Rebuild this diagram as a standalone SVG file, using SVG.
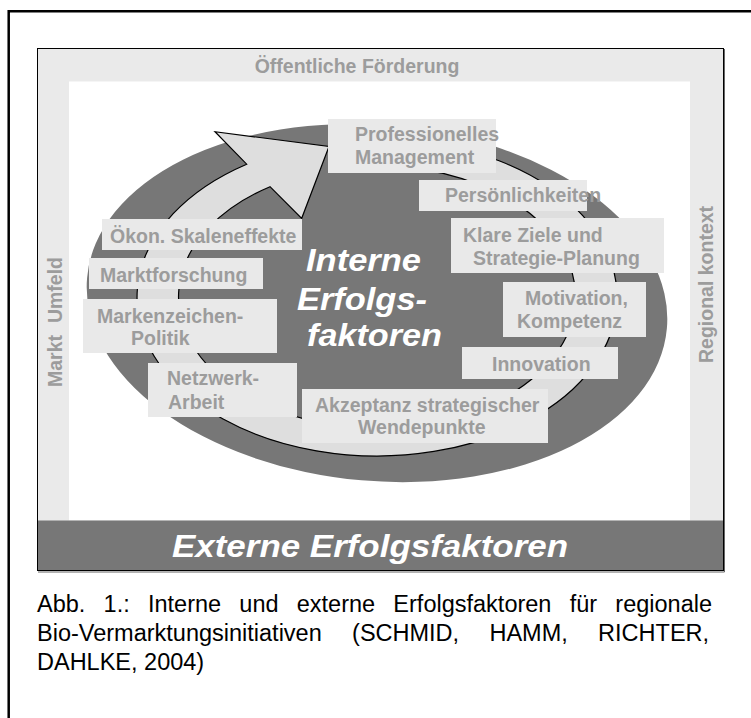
<svg xmlns="http://www.w3.org/2000/svg" width="751" height="718" viewBox="0 0 751 718">
  <style>
    .lbl { font-family: "Liberation Sans", Arial, sans-serif; font-weight: bold; font-size: 19.5px; fill: #9c9c9c; }
    .box { fill: #e9e9e9; }
    .big { font-family: "Liberation Sans", Arial, sans-serif; font-weight: bold; font-style: italic; font-size: 31px; fill: #ffffff; }
    .cap { font-family: "Liberation Sans", Arial, sans-serif; font-size: 23.5px; fill: #000000; }
  </style>
  <rect x="0" y="0" width="751" height="718" fill="#ffffff"/>
  <!-- outer frame -->
  <path d="M 8.7 720 V 11.3 H 753" fill="none" stroke="#000" stroke-width="2.5"/>

  <g id="external">
    <rect x="37.5" y="48.5" width="686" height="522" fill="#eaeaea"/>
    <rect x="69" y="81.5" width="621" height="439" fill="#ffffff"/>
    <rect x="37.5" y="520.5" width="686" height="50" fill="#777777"/>
    <rect x="37.5" y="48.5" width="686" height="522" fill="none" stroke="#000" stroke-width="1"/>
    <path d="M 724.5 49 V 572 H 38" fill="none" stroke="#666" stroke-width="1"/>
    <text class="lbl" x="357" y="72.5" text-anchor="middle">Öffentliche Förderung</text>
    <text class="lbl" transform="translate(61.5 387) rotate(-90)">Markt</text>
    <text class="lbl" transform="translate(61.5 257) rotate(-90)" text-anchor="end">Umfeld</text>
    <text class="lbl" transform="translate(713 363) rotate(-90)">Regional kontext</text>
    <text class="big" x="172" y="557" font-size="33" textLength="396" lengthAdjust="spacingAndGlyphs">Externe Erfolgsfaktoren</text>
  </g>

  <g id="internal">
    <ellipse cx="377" cy="303" rx="291" ry="178" fill="#777777" transform="rotate(5 377 303)"/>
  </g>

  <g id="connectors">
    <path d="M 400 139.5 A 240 158.6 0 1 1 246.7 164.2 L 215 131.7 L 329 146.5 L 301.7 218.3 L 270 186.7 A 198.5 131 0 1 0 400 166.9 Z" fill="#dedede" stroke="#000" stroke-width="1.2" stroke-linejoin="miter"/>
  </g>

  <g id="center-label">
    <text class="big" x="306" y="271" textLength="115" lengthAdjust="spacingAndGlyphs">Interne</text>
    <text class="big" x="297" y="310" textLength="130" lengthAdjust="spacingAndGlyphs">Erfolgs-</text>
    <text class="big" x="307" y="346" textLength="135" lengthAdjust="spacingAndGlyphs">faktoren</text>
  </g>

  <g id="n-professionelles">
    <rect class="box" x="328" y="119" width="168" height="54"/>
    <text class="lbl" x="355" y="141">Professionelles</text>
    <text class="lbl" x="355" y="164">Management</text>
  </g>
  <g id="n-persoenlichkeiten">
    <rect class="box" x="419" y="180" width="168" height="31"/>
    <text class="lbl" x="445" y="202">Persönlichkeiten</text>
  </g>
  <g id="n-klare-ziele">
    <rect class="box" x="451" y="218" width="213" height="55"/>
    <text class="lbl" x="463" y="242">Klare Ziele und</text>
    <text class="lbl" x="473" y="265">Strategie-Planung</text>
  </g>
  <g id="n-motivation">
    <rect class="box" x="503" y="282" width="143" height="55"/>
    <text class="lbl" x="525" y="305">Motivation,</text>
    <text class="lbl" x="517" y="328">Kompetenz</text>
  </g>
  <g id="n-innovation">
    <rect class="box" x="462" y="347" width="156" height="32"/>
    <text class="lbl" x="492" y="371">Innovation</text>
  </g>
  <g id="n-akzeptanz">
    <rect class="box" x="302" y="389" width="246" height="54"/>
    <text class="lbl" x="315" y="412">Akzeptanz strategischer</text>
    <text class="lbl" x="358" y="434">Wendepunkte</text>
  </g>
  <g id="n-netzwerk">
    <rect class="box" x="148" y="363" width="149" height="54"/>
    <text class="lbl" x="167" y="385">Netzwerk-</text>
    <text class="lbl" x="168" y="409">Arbeit</text>
  </g>
  <g id="n-markenzeichen">
    <rect class="box" x="83" y="299" width="194" height="54"/>
    <text class="lbl" x="97" y="323">Markenzeichen-</text>
    <text class="lbl" x="131" y="345">Politik</text>
  </g>
  <g id="n-marktforschung">
    <rect class="box" x="89" y="258" width="174" height="31"/>
    <text class="lbl" x="100" y="282">Marktforschung</text>
  </g>
  <g id="n-oekon">
    <rect class="box" x="102" y="219" width="200" height="31"/>
    <text class="lbl" x="110" y="243">Ökon. Skaleneffekte</text>
  </g>

  <g id="caption">
    <text class="cap" x="37" y="612" word-spacing="11.7">Abb. 1.: Interne und externe Erfolgsfaktoren für regionale</text>
    <text class="cap" x="37" y="641" word-spacing="23.8">Bio-Vermarktungsinitiativen (SCHMID, HAMM, RICHTER,</text>
    <text class="cap" x="37" y="670">DAHLKE, 2004)</text>
  </g>
</svg>
